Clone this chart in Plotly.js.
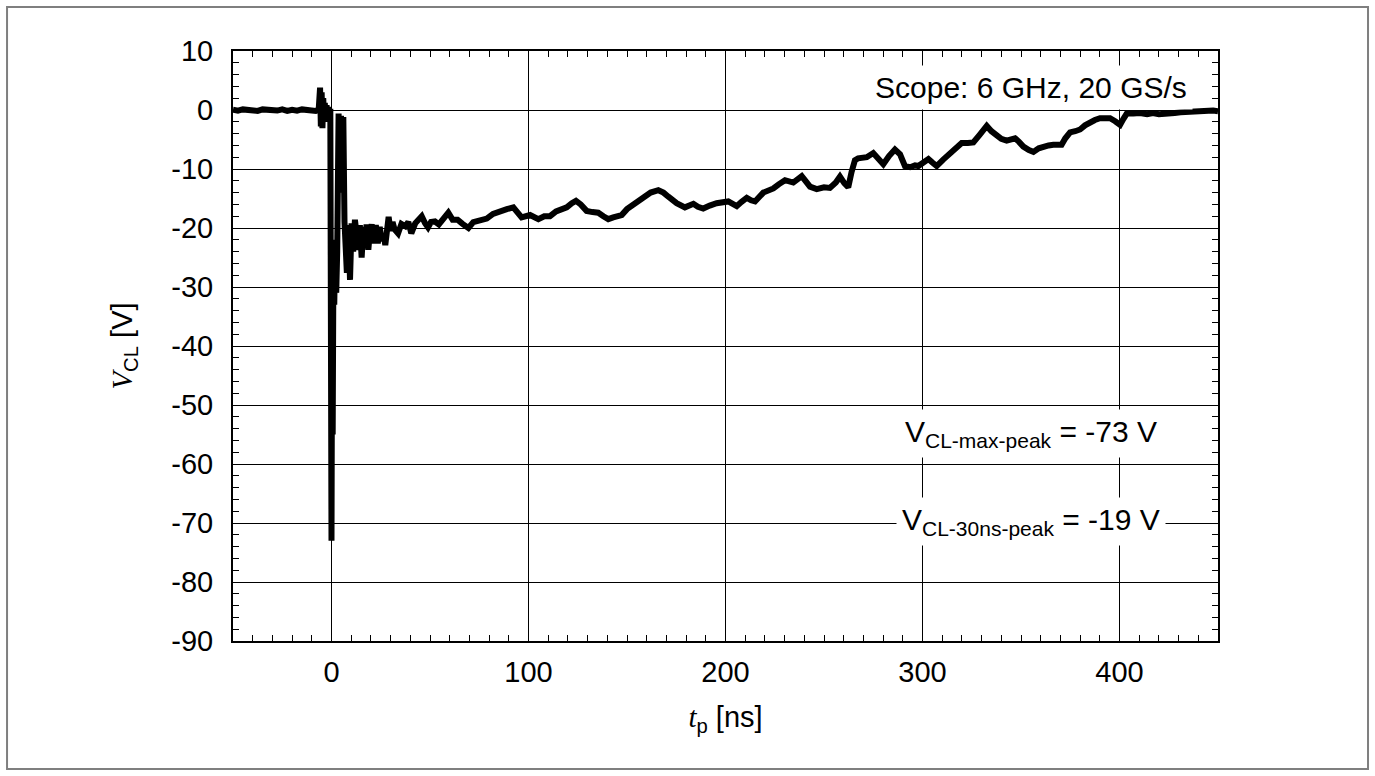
<!DOCTYPE html>
<html>
<head>
<meta charset="utf-8">
<script src="https://cdn.plot.ly/plotly-3.0.1.min.js"></script>
<style>html,body{margin:0;padding:0;background:#fff;}#chart{width:1375px;height:776px;}</style>
</head>
<body>
<div id="chart"></div>
<script>
// time axis [ns]
const tp = [
 -50,-47.5,-45,-42.5,-40,-37.5,-35,-32.5,-30,-27.5,-25,-22.5,-20,-17.5,-15,-12.5,-10,-8,-6.5,
 -5.8,-5.4,-5.0,-4.6,-4.2,-3.8,-3.4,-3.0,-2.5,-2.0,-1.5,-1.0,-0.6,
 -0.3,0,0.3,0.6,1.0,1.4,1.9,2.4,2.9,3.6,4.2,4.8,5.4,6.0,6.6,7.2,
 7.8,8.5,9.4,10.2,11.0,11.9,12.8,13.6,14.4,15.3,16.2,17.0,17.8,18.7,19.5,20.4,21.5,22.5,23.5,24.5,25.5,26.5,27.3,28.2,29.0,30.0,31.0,32.0,33.8,35.5,37.5,39.0,40.5,42.5,44.0,45.8,47.5,49.0,50.5,52.5,54.5,56.5,59.3,61.5,64.0,66.5,69.5,72.0,74.5,78.8,82.0,85.5,89.0,92.3,94.5,96.5,100.8,103,105,108,110.9,114,117,119.4,122,124.1,126.5,129.5,132.5,135.4,138,140.5,143,147.3,150,153.2,155.5,158.3,162,165.9,168.5,171,175.2,179.4,183.7,186,188.7,192,195.5,201.4,205.7,208,210.8,213,215,219.2,224.3,227,230.2,234.4,238.7,242.9,246.3,250,253,256,258.1,260.3,262.3,264,265.7,267.3,271.7,275,277.5,280.1,283,286,288.6,291.1,293.7,296.2,297.9,300.5,303,305,307.2,310.5,314,317,319.9,323,325.8,329,332.6,335,337.7,340,342.7,345,347,349,351.2,354,356.3,359,361.3,364,366.4,368.5,370.6,372.5,374.9,377.5,380,382.5,385,387.5,390.1,392.5,395.2,397.8,400.3,402,403.7,407,410.4,414,417,420,424,428,431,434.1,437,440,444,447.6,450
];
// clamping voltage [V]
const vcl = [
 0.05,-0.1,0.1,-0.05,0.05,-0.15,0.1,-0.05,0.05,-0.1,0.1,-0.15,0.05,-0.1,0.1,-0.05,0.05,-0.15,0.1,
 3.8,-2.8,3.0,-3.1,2.0,-1.5,1.2,-2.0,0.8,-1.6,0.5,-1.2,0.2,
 -50,-73,-35,-55,-24,-33,-22,-31,-24,-0.6,-14,-1.0,-8,-1.2,-19,-22,
 -27.6,-19.5,-28.8,-19.2,-24,-18.6,-22,-23.7,-19.5,-25,-19.8,-23,-19.4,-23.7,-20.5,-19.4,-22.6,-19.5,-22.6,-19.8,-22.2,-21.0,-22.9,-19.5,-18.1,-20.5,-19.0,-20.2,-20.9,-19.3,-19.7,-19.0,-20.9,-19.2,-18.6,-18.0,-19.2,-19.9,-19.0,-18.9,-19.4,-18.5,-17.4,-18.6,-18.6,-19.3,-20.0,-19.0,-18.8,-18.4,-17.6,-17.1,-16.8,-16.5,-17.4,-18.2,-17.8,-18.2,-18.5,-18.0,-18.0,-17.2,-16.8,-16.5,-15.8,-15.4,-16.0,-17.1,-17.3,-17.4,-18.0,-18.5,-18.2,-17.8,-16.8,-16.1,-15.4,-14.7,-14.0,-13.6,-14.0,-14.7,-15.8,-16.5,-15.9,-16.4,-16.7,-16.2,-15.8,-15.5,-16.3,-15.6,-14.9,-15.3,-15.5,-14.0,-13.3,-12.6,-11.9,-12.3,-11.2,-13.0,-13.4,-13.1,-13.2,-12.3,-11.3,-12.4,-13.1,-10.5,-8.5,-8.2,-8.0,-7.3,-8.2,-9.2,-7.8,-6.7,-7.5,-9.5,-9.7,-9.4,-9.5,-8.8,-8.3,-8.9,-9.5,-8.4,-7.3,-6.3,-5.6,-5.6,-5.5,-4.2,-2.7,-3.6,-4.4,-4.9,-5.2,-4.9,-4.8,-5.4,-6.2,-6.8,-7.1,-6.5,-6.2,-6.0,-5.9,-6.0,-5.9,-4.8,-3.8,-3.6,-3.3,-2.6,-2.0,-1.7,-1.4,-1.3,-1.4,-1.9,-2.5,-1.5,-0.6,-0.6,-0.5,-0.7,-0.5,-0.7,-0.7,-0.5,-0.4,-0.3,-0.4,-0.2,-0.2,-0.1,-0.2
];
const xTicks = [0, 100, 200, 300, 400];
const yTicks = [10, 0, -10, -20, -30, -40, -50, -60, -70, -80, -90];
const noteScope = 'Scope: 6 GHz, 20 GS/s';
const noteMax = 'V<sub>CL-max-peak</sub> = -73 V';
const note30 = 'V<sub>CL-30ns-peak</sub> = -19 V';

const FONT = 'Liberation Sans, Arial, Helvetica, sans-serif';
const SERIF = 'Liberation Serif, Times New Roman, serif';

const trace = {
  x: tp, y: vcl, type: 'scatter', mode: 'lines',
  line: {color: '#000', width: 6},
  hoverinfo: 'skip'
};

const layout = {
  width: 1375, height: 776,
  margin: {l: 233, r: 157, t: 51, b: 135},
  paper_bgcolor: '#fff', plot_bgcolor: '#fff',
  showlegend: false,
  font: {family: FONT, color: '#000', size: 29},
  xaxis: {
    range: [-50, 450], tickvals: xTicks, ticktext: xTicks.map(String),
    showgrid: true, gridcolor: '#000', gridwidth: 1,
    zeroline: false, showline: true, linecolor: '#000', linewidth: 2, mirror: 'allticks',
    ticks: 'inside', ticklen: 6, tickcolor: '#000', tickwidth: 1,
    minor: {dtick: 10, tick0: 0, ticks: 'inside', ticklen: 6, tickcolor: '#000', tickwidth: 1, showgrid: false},
    tickfont: {family: FONT, size: 29, color: '#000'},
    ticklabelstandoff: 4,
    title: {text: '<span style="font-family:' + SERIF + '"><i>t</i></span><sub>p</sub> [ns]', font: {family: FONT, size: 29, color: '#000'}, standoff: 20},
    automargin: false, fixedrange: true
  },
  yaxis: {
    range: [-90, 10], tickvals: yTicks, ticktext: yTicks.map(String),
    showgrid: true, gridcolor: '#000', gridwidth: 1,
    zeroline: false, showline: true, linecolor: '#000', linewidth: 2, mirror: 'allticks',
    ticks: 'inside', ticklen: 6, tickcolor: '#000', tickwidth: 1,
    minor: {dtick: 2, tick0: 0, ticks: 'inside', ticklen: 6, tickcolor: '#000', tickwidth: 1, showgrid: false},
    tickfont: {family: FONT, size: 29, color: '#000'},
    ticklabelstandoff: 12,
    title: {text: '<span style="font-family:' + SERIF + '"><i>V</i></span><sub>CL</sub> [V]', font: {family: FONT, size: 29, color: '#000'}, standoff: 30},
    automargin: false, fixedrange: true
  },
  annotations: [
    {text: noteScope, x: 355, y: 3.8, xref: 'x', yref: 'y', showarrow: false, xanchor: 'center', yanchor: 'middle',
     bgcolor: '#fff', borderpad: 5, font: {family: FONT, size: 30, color: '#000'}},
    {text: noteMax, x: 355, y: -54.8, xref: 'x', yref: 'y', showarrow: false, xanchor: 'center', yanchor: 'middle',
     bgcolor: '#fff', borderpad: 5, font: {family: FONT, size: 30, color: '#000'}},
    {text: note30, x: 355, y: -69.8, xref: 'x', yref: 'y', showarrow: false, xanchor: 'center', yanchor: 'middle',
     bgcolor: '#fff', borderpad: 5, font: {family: FONT, size: 30, color: '#000'}}
  ],
  shapes: [
    {type: 'rect', xref: 'paper', yref: 'paper', x0: -0.2294, x1: 1.1523, y0: -0.2169, y1: 1.0746,
     line: {color: '#7f7f7f', width: 2}, fillcolor: 'rgba(0,0,0,0)', layer: 'below'}
  ]
};

Plotly.newPlot('chart', [trace], layout, {staticPlot: true, displayModeBar: false});
</script>
</body>
</html>
